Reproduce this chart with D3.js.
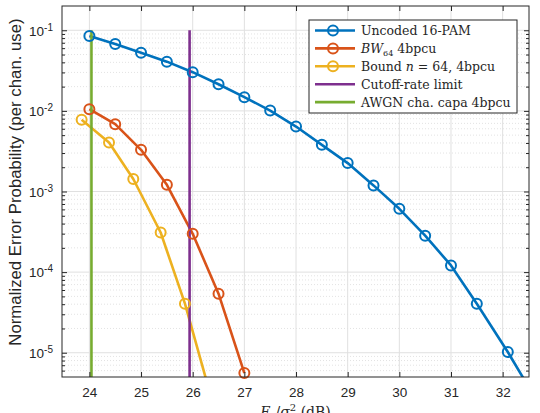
<!DOCTYPE html>
<html>
<head>
<meta charset="utf-8">
<script src="https://cdn.jsdelivr.net/npm/d3@7"></script>
<style>
  body { margin: 0; background: #fff; }
  svg { display: block; }
</style>
</head>
<body>
<div id="chart"></div>
<script>
// data
const uncodedX = [24, 24.5, 25, 25.5, 26, 26.5, 27, 27.5, 28, 28.5, 29, 29.5, 30, 30.5, 31, 31.5, 32.1, 32.7];
const uncodedY = [0.085, 0.0676, 0.0527, 0.0408, 0.0302, 0.0214, 0.0148, 0.0101, 0.00639, 0.00379, 0.00225, 0.00119, 6.1e-4, 2.83e-4, 1.21e-4, 4.06e-5, 1.02e-5, 2.3e-6];
const bw64X = [24, 24.5, 25, 25.5, 26, 26.5, 27];
const bw64Y = [0.0105, 0.00684, 0.00329, 0.00121, 2.99e-4, 5.4e-5, 5.6e-6];
const boundX = [23.85, 24.38, 24.85, 25.38, 25.85, 26.35];
const boundY = [0.00774, 0.00405, 0.00143, 3.1e-4, 4.06e-5, 2.9e-6];
const cutoffX = 25.94;
const awgnX = 24.04;
const vlineY = [0.1, 1e-6];
const xTicks = [24, 25, 26, 27, 28, 29, 30, 31, 32];
const yTicks = [1e-5, 1e-4, 1e-3, 1e-2, 1e-1];
const yExps = ["-5", "-4", "-3", "-2", "-1"];

const W = 540, H = 413;
const margin = {top: 6, right: 11, bottom: 36, left: 62};
const w = W - margin.left - margin.right;
const h = H - margin.top - margin.bottom;

const colors = {
  blue: "#0072BD", orange: "#D95319", yellow: "#EDB120", purple: "#7E2F8E", green: "#77AC30"
};
const sans = "'Liberation Sans', Arial, Helvetica, sans-serif";
const serif = "'DejaVu Serif', serif";

const svg = d3.select("#chart").append("svg")
  .attr("width", W).attr("height", H);

const chart = svg.append("g")
  .attr("transform", `translate(${margin.left}, ${margin.top})`);

const x = d3.scaleLinear().domain([23.47, 32.51]).range([0, w]);
const y = d3.scaleLog().domain([5e-6, 0.2]).range([h, 0]);

svg.append("defs").append("clipPath").attr("id", "clip")
  .append("rect").attr("width", w).attr("height", h);

// minor grid (dotted)
const minorY = [];
for (let e = -6; e <= -1; e++) {
  for (let m = 2; m <= 9; m++) {
    const v = m * Math.pow(10, e);
    if (v > 5e-6 && v < 0.2) minorY.push(v);
  }
}
chart.append("g").selectAll("line")
  .data(minorY).join("line")
  .attr("x1", 0).attr("x2", w)
  .attr("y1", d => y(d)).attr("y2", d => y(d))
  .attr("stroke", "#e3e3e3").attr("stroke-width", 1)
  .attr("stroke-dasharray", "1,2");

// major grid
chart.append("g").selectAll("line")
  .data(xTicks).join("line")
  .attr("x1", d => x(d)).attr("x2", d => x(d))
  .attr("y1", 0).attr("y2", h)
  .attr("stroke", "#e0e0e0").attr("stroke-width", 1);
chart.append("g").selectAll("line")
  .data(yTicks).join("line")
  .attr("x1", 0).attr("x2", w)
  .attr("y1", d => y(d)).attr("y2", d => y(d))
  .attr("stroke", "#e0e0e0").attr("stroke-width", 1);

// series
const line = d3.line().x(d => x(d[0])).y(d => y(d[1]));
const plot = chart.append("g").attr("clip-path", "url(#clip)");

const series = [
  {xs: uncodedX, ys: uncodedY, color: colors.blue, marker: true},
  {xs: bw64X, ys: bw64Y, color: colors.orange, marker: true},
  {xs: boundX, ys: boundY, color: colors.yellow, marker: true},
  {xs: [cutoffX, cutoffX], ys: vlineY, color: colors.purple, marker: false},
  {xs: [awgnX, awgnX], ys: vlineY, color: colors.green, marker: false}
];

series.forEach(s => {
  const pts = s.xs.map((v, i) => [v, s.ys[i]]);
  plot.append("path")
    .datum(pts)
    .attr("d", line)
    .attr("fill", "none")
    .attr("stroke", s.color)
    .attr("stroke-width", 2.6)
    .attr("stroke-linejoin", "round");
  if (s.marker) {
    chart.append("g").selectAll("circle")
      .data(pts.filter(p => p[1] >= 5e-6 && p[0] <= 32.51))
      .join("circle")
      .attr("cx", p => x(p[0]))
      .attr("cy", p => y(p[1]))
      .attr("r", 5)
      .attr("fill", "none")
      .attr("stroke", s.color)
      .attr("stroke-width", 2);
  }
});

// ticks inside on all four sides
const axColor = "#262626";
const tickStyle = g => {
  g.select(".domain").remove();
  g.selectAll("line").attr("stroke", axColor);
};
chart.append("g").attr("transform", `translate(0, ${h})`)
  .call(d3.axisBottom(x).tickValues(xTicks).tickSize(-5).tickFormat(""))
  .call(tickStyle);
chart.append("g")
  .call(d3.axisTop(x).tickValues(xTicks).tickSize(-5).tickFormat(""))
  .call(tickStyle);
chart.append("g")
  .call(d3.axisLeft(y).tickValues(yTicks).tickSize(-5).tickFormat(""))
  .call(tickStyle);
chart.append("g").attr("transform", `translate(${w}, 0)`)
  .call(d3.axisRight(y).tickValues(yTicks).tickSize(-5).tickFormat(""))
  .call(tickStyle);
chart.append("g")
  .call(d3.axisLeft(y).tickValues(minorY).tickSize(-3).tickFormat(""))
  .call(tickStyle);
chart.append("g").attr("transform", `translate(${w}, 0)`)
  .call(d3.axisRight(y).tickValues(minorY).tickSize(-3).tickFormat(""))
  .call(tickStyle);

// tick labels
const xl = chart.append("g").attr("transform", `translate(0, ${h})`)
  .call(d3.axisBottom(x).tickValues(xTicks).tickSize(0).tickPadding(10).tickFormat(d3.format("d")));
xl.select(".domain").remove();
xl.attr("font-family", sans).attr("font-size", 13.5);
xl.selectAll("text").attr("fill", axColor);

const yl = chart.append("g")
  .call(d3.axisLeft(y).tickValues(yTicks).tickSize(0).tickPadding(9).tickFormat(""));
yl.select(".domain").remove();
yl.attr("font-family", sans).attr("font-size", 13.5);
yl.selectAll("text").each(function(d, i) {
  const t = d3.select(this)
    .attr("fill", axColor)
    .attr("dy", "0.35em");
  t.append("tspan").text("10");
  t.append("tspan").attr("dy", "-0.5em").attr("font-size", 10).text(yExps[i]);
});

chart.append("rect")
  .attr("width", w).attr("height", h)
  .attr("fill", "none").attr("stroke", axColor).attr("stroke-width", 1);

// axis labels
svg.append("text")
  .attr("transform", `translate(21, 182) rotate(-90)`)
  .attr("text-anchor", "middle")
  .attr("font-family", sans)
  .attr("font-size", 16.8).attr("fill", axColor)
  .text("Normalized Error Probability (per chan. use)");

// x label sits partly below the bottom edge, as in the reference
const xlab = svg.append("text")
  .attr("x", margin.left + w / 2).attr("y", 416.5)
  .attr("text-anchor", "middle")
  .attr("font-family", serif)
  .attr("font-size", 14).attr("fill", axColor);
xlab.append("tspan").attr("font-style", "italic").text("E");
xlab.append("tspan").attr("font-size", 10).attr("dy", 3).attr("font-style", "italic").text("s");
xlab.append("tspan").attr("dy", -3).text("/");
xlab.append("tspan").attr("font-style", "italic").text("σ");
xlab.append("tspan").attr("font-size", 10).attr("dy", -6).text("2");
xlab.append("tspan").attr("dy", 6).text(" (dB)");

// legend
const legendItems = [
  {label: [["Uncoded 16-PAM", null]], color: colors.blue, marker: true},
  {label: [["BW", "italic"], ["64", "sub"], [" 4bpcu", null]], color: colors.orange, marker: true},
  {label: [["Bound ", null], ["n", "italic"], [" = 64, 4bpcu", null]], color: colors.yellow, marker: true},
  {label: [["Cutoff-rate limit", null]], color: colors.purple, marker: false},
  {label: [["AWGN cha. capa 4bpcu", null]], color: colors.green, marker: false}
];
const lg = svg.append("g").attr("transform", "translate(309, 20)");
lg.append("rect")
  .attr("width", 208).attr("height", 93)
  .attr("fill", "#fff").attr("stroke", axColor).attr("stroke-width", 1);
legendItems.forEach((it, i) => {
  const cy = 10.5 + i * 17.9;
  lg.append("line")
    .attr("x1", 6).attr("x2", 46).attr("y1", cy).attr("y2", cy)
    .attr("stroke", it.color).attr("stroke-width", 2.6);
  if (it.marker) {
    lg.append("circle").attr("cx", 24).attr("cy", cy).attr("r", 5)
      .attr("fill", "none").attr("stroke", it.color).attr("stroke-width", 2);
  }
  const t = lg.append("text")
    .attr("x", 52).attr("y", cy + 4.5)
    .attr("font-family", serif)
    .attr("font-size", 12.5).attr("fill", axColor);
  it.label.forEach(([s, st]) => {
    const sp = t.append("tspan").text(s);
    if (st === "italic") sp.attr("font-style", "italic");
    if (st === "sub") sp.attr("font-size", 8).attr("dy", 3);
    if (st === null && it.label.some(l => l[1] === "sub")) sp.attr("dy", -3);
  });
});
</script>
</body>
</html>
